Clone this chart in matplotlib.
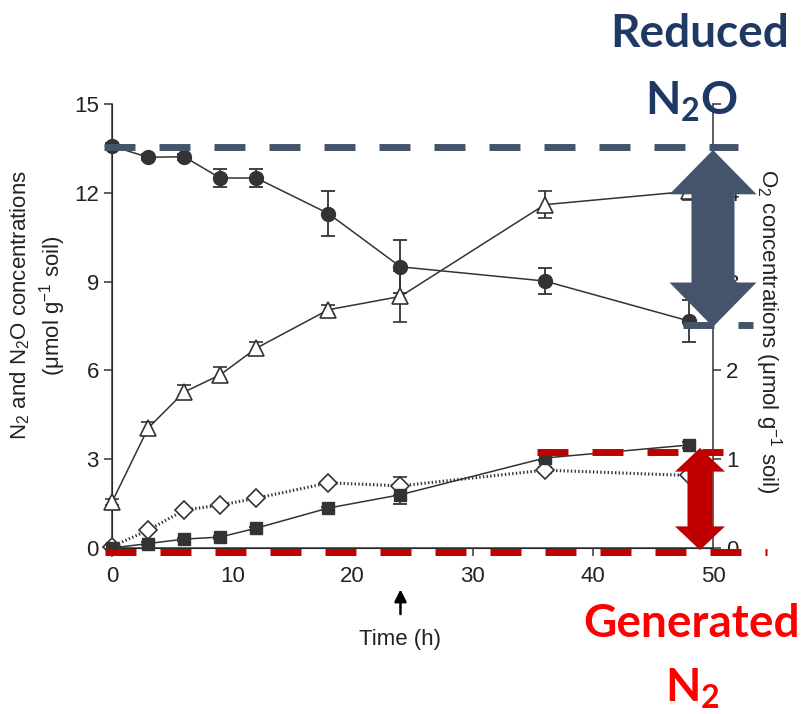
import numpy as np
import matplotlib
matplotlib.use('Agg')
import matplotlib.pyplot as plt
from matplotlib.patches import Polygon

plt.rcParams['font.family'] = ['Liberation Sans', 'DejaVu Sans']
plt.rcParams['mathtext.default'] = 'regular'
plt.rcParams['lines.scale_dashes'] = False

# 时间点 (h)
time_h = [0, 3, 6, 9, 12, 18, 24, 36, 48]

# 左轴单位读数 (μmol g-1 soil)
circle_vals = [13.58, 13.2, 13.22, 12.5, 12.5, 11.3, 9.5, 9.02, 7.67]
circle_err = [0.1, 0.1, 0.1, 0.3, 0.3, 0.75, 0.9, 0.45, 0.7]
triangle_vals = [1.55, 4.05, 5.27, 5.85, 6.75, 8.05, 8.5, 11.6, 12.05]
triangle_err = [0.1, 0.2, 0.25, 0.25, 0.2, 0.15, 0.85, 0.45, 0.3]
diamond_vals = [0.05, 0.6, 1.28, 1.45, 1.68, 2.2, 2.1, 2.63, 2.45]
diamond_err = [0.0, 0.05, 0.05, 0.05, 0.05, 0.05, 0.3, 0.1, 0.1]
square_vals = [0.0, 0.15, 0.3, 0.37, 0.67, 1.35, 1.8, 3.04, 3.48]
square_err = [0.0, 0.05, 0.05, 0.05, 0.05, 0.05, 0.3, 0.1, 0.1]

left_ticks = [0, 3, 6, 9, 12, 15]
right_ticks = [0, 1, 2, 3, 4, 5]
x_ticks = [0, 10, 20, 30, 40, 50]

# 标注的水平位置
reduced_top, reduced_bottom = 13.55, 7.53
generated_top, generated_bottom = 3.24, -0.13

NAVY = '#44546A'
NAVY_TEXT = '#1F3864'
RED = '#C00000'
INK = '#333333'


def double_arrow(ax, x, y0, y1, shaft_hw, head_hw, head_len, color):
    """竖直双向粗箭头 (数据坐标)"""
    pts = [(x - shaft_hw, y0 + head_len), (x - head_hw, y0 + head_len), (x, y0),
           (x + head_hw, y0 + head_len), (x + shaft_hw, y0 + head_len),
           (x + shaft_hw, y1 - head_len), (x + head_hw, y1 - head_len), (x, y1),
           (x - head_hw, y1 - head_len), (x - shaft_hw, y1 - head_len)]
    ax.add_patch(Polygon(pts, closed=True, facecolor=color, edgecolor='none',
                         zorder=10, clip_on=False))


def px2x(px):
    # 参考图像素 -> 数据 x
    return (px - 112) / 12.02


fig = plt.figure(figsize=(8.03, 7.14), dpi=100)
ax = fig.add_axes([0.1395, 0.2325, 0.7484, 0.6218])

# 右轴 (O2)，放在主轴下面，让箭头盖住它的刻度
ax2 = ax.twinx()
ax2.set_ylim(0, 5)
ax2.set_yticks(right_ticks)
ax2.set_yticklabels(['0', '1', '2', '3', '4', ''])
ax2.spines['top'].set_visible(False)
ax2.spines['right'].set_color(INK)
ax2.spines['right'].set_linewidth(1.1)
ax2.tick_params(direction='out', length=6, width=1.1, color=INK, labelsize=16,
                labelcolor='#222222')
ax.set_zorder(ax2.get_zorder() + 1)
ax.patch.set_visible(False)

ax.errorbar(time_h, circle_vals, yerr=circle_err, fmt='-o', color=INK, lw=1.1,
            ms=10, mfc=INK, mec=INK, capsize=5, elinewidth=1.3, capthick=1.3,
            clip_on=False, zorder=4)
ax.errorbar(time_h, triangle_vals, yerr=triangle_err, fmt='-^', color=INK, lw=1.1,
            ms=11, mfc='white', mec=INK, mew=1.2, capsize=5, elinewidth=1.3,
            capthick=1.3, clip_on=False, zorder=4)
ax.errorbar(time_h, diamond_vals, yerr=diamond_err, fmt=':D', color=INK, lw=2.2,
            ms=9, mfc='white', mec=INK, mew=1.2, capsize=5, elinewidth=1.3,
            capthick=1.3, clip_on=False, zorder=3)
ax.errorbar(time_h, square_vals, yerr=square_err, fmt='-s', color=INK, lw=1.1,
            ms=8.5, mfc=INK, mec=INK, capsize=5, elinewidth=1.3, capthick=1.3,
            clip_on=False, zorder=3)

ax.set_xlim(0, 50)
ax.set_ylim(0, 15)
ax.set_xticks(x_ticks)
ax.set_yticks(left_ticks)
ax.tick_params(direction='out', length=6, width=1.1, color=INK, labelsize=16,
               labelcolor='#222222')
ax.tick_params(axis='x', pad=7)
ax.spines['top'].set_visible(False)
ax.spines['right'].set_visible(False)
for s in ['left', 'bottom']:
    ax.spines[s].set_color(INK)
    ax.spines[s].set_linewidth(1.1)

ax.text(-0.123, 0.547, 'N$_2$ and N$_2$O concentrations\n(μmol g$^{-1}$ soil)',
        transform=ax.transAxes, rotation=90, ha='center', va='center',
        fontsize=16, color='#222222', linespacing=1.25)
ax.text(1.0915, 0.489, 'O$_2$ concentrations (μmol g$^{-1}$ soil)',
        transform=ax.transAxes, rotation=270, ha='center', va='center',
        fontsize=16, color='#222222')
ax.text(0.48, -0.207, 'Time (h)', transform=ax.transAxes, ha='center',
        va='center', fontsize=16, color='#222222')
ax.annotate('', xy=(24, -0.087), xycoords=('data', 'axes fraction'),
            xytext=(24, -0.155), textcoords=('data', 'axes fraction'),
            arrowprops=dict(arrowstyle='-|>', color='black', lw=1.8,
                            mutation_scale=18))

# 虚线
dash = (0, (22.3, 17.3))
ax.plot([px2x(104), px2x(738)], [reduced_top] * 2, color=NAVY, lw=5,
        linestyle=dash, dash_capstyle='butt', clip_on=False, zorder=9)
ax.plot([px2x(683), px2x(753)], [reduced_bottom] * 2, color=NAVY, lw=5,
        linestyle=dash, dash_capstyle='butt', clip_on=False, zorder=9)
ax.plot([px2x(537), px2x(723)], [generated_top] * 2, color=RED, lw=5,
        linestyle=dash, dash_capstyle='butt', clip_on=False, zorder=9)
ax.plot([px2x(105), px2x(767)], [generated_bottom] * 2, color=RED, lw=5,
        linestyle=dash, dash_capstyle='butt', clip_on=False, zorder=9)

# 双向箭头
double_arrow(ax, px2x(713), reduced_bottom - 0.06, reduced_top - 0.1,
             1.79, 3.62, 1.5, NAVY)
double_arrow(ax, px2x(700), generated_bottom + 0.06, generated_top + 0.14,
             1.04, 2.08, 0.8, RED)

# 文字注释
fig.text(700 / 803, 1 - 47 / 714, 'Reduced', ha='center', va='baseline',
         fontsize=33, fontweight='bold', family='Lato', color=NAVY_TEXT)
fig.text(691 / 803, 1 - 115 / 714, 'N$_2$O', ha='center', va='baseline',
         fontsize=33, fontweight='bold', family='Lato', color=NAVY_TEXT)
fig.text(692 / 803, 1 - 637 / 714, 'Generated', ha='center', va='baseline',
         fontsize=33, fontweight='bold', family='Lato', color='#FF0000')
fig.text(692 / 803, 1 - 702 / 714, 'N$_2$', ha='center', va='baseline',
         fontsize=33, fontweight='bold', family='Lato', color='#FF0000')

fig.savefig('out.png', dpi=100)
